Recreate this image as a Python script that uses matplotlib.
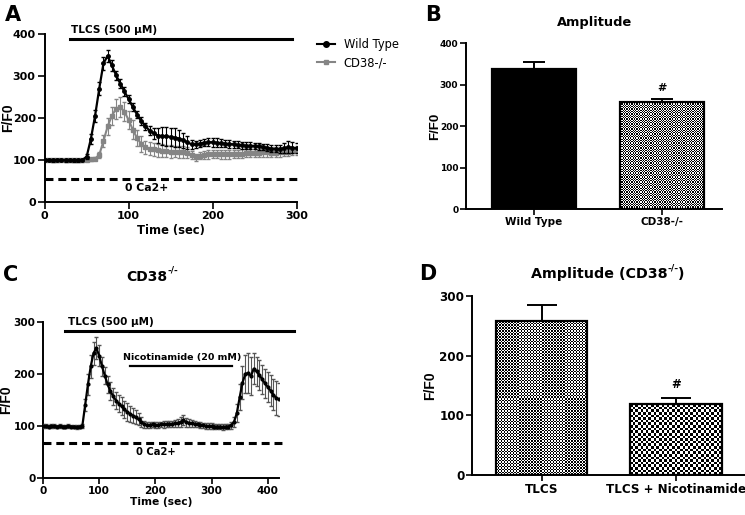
import matplotlib
matplotlib.use("Agg")
import matplotlib.pyplot as plt
from matplotlib.lines import Line2D
import numpy as np

plt.rcParams['font.family'] = ['DejaVu Sans']
plt.rcParams['font.weight'] = 'bold'
plt.rcParams['axes.labelweight'] = 'bold'
plt.rcParams['axes.linewidth'] = 1.4

# --- panel A: time course (WT vs CD38-/-) ---
time_a = [0, 5, 10, 15, 20, 25, 30, 35, 40, 45, 50, 55, 60, 65, 70, 75, 80, 85, 90, 95,
          100, 105, 110, 115, 120, 125, 130, 135, 140, 145, 150, 155, 160, 165, 170, 175,
          180, 185, 190, 195, 200, 205, 210, 215, 220, 225, 230, 235, 240, 245, 250, 255,
          260, 265, 270, 275, 280, 285, 290, 295, 300]
wt_mean = [100, 100, 99, 100, 100, 99, 100, 99, 99, 100, 108, 150, 205, 270, 330, 348, 325, 302, 282, 263,
           245, 226, 208, 193, 180, 170, 163, 158, 157, 156, 155, 153, 151, 147, 142, 137,
           137, 139, 141, 142, 142, 141, 140, 139, 138, 137, 136, 135, 134, 134, 133, 132,
           131, 129, 127, 127, 126, 128, 130, 129, 128]
wt_sem = [3, 3, 3, 3, 3, 3, 3, 3, 3, 3, 6, 12, 15, 15, 15, 14, 12, 11, 10, 10,
          10, 10, 9, 9, 9, 10, 12, 18, 22, 22, 22, 22, 20, 18, 15, 10,
          8, 8, 9, 10, 11, 11, 10, 9, 9, 8, 8, 8, 8, 8, 8, 8,
          8, 8, 8, 9, 10, 12, 14, 13, 12]
ko_mean = [100, 100, 100, 99, 100, 100, 99, 100, 100, 99, 100, 101, 103, 112, 145, 180, 205, 222, 226, 215,
           195, 172, 152, 138, 130, 127, 125, 123, 122, 121, 120, 120, 119, 118, 117, 112,
           106, 110, 112, 113, 114, 114, 113, 113, 113, 114, 114, 115, 116, 116, 116, 117,
           118, 118, 117, 117, 118, 119, 120, 121, 122]
ko_sem = [3, 3, 3, 3, 3, 3, 3, 3, 3, 3, 3, 3, 4, 8, 15, 20, 22, 24, 24, 22,
          22, 22, 20, 18, 16, 15, 15, 15, 15, 15, 15, 14, 14, 14, 13, 10,
          8, 9, 10, 10, 10, 10, 10, 10, 10, 10, 10, 10, 10, 10, 10, 10,
          10, 10, 10, 10, 10, 10, 10, 10, 10]

# --- panel B: amplitude ---
b_groups = ['Wild Type', 'CD38-/-']
b_amp = [338, 257]
b_err = [17, 9]

# --- panel C: CD38-/- time course with nicotinamide ---
time_c = [0, 5, 10, 15, 20, 25, 30, 35, 40, 45, 50, 55, 60, 65, 70, 75, 80, 85, 90, 95,
          100, 105, 110, 115, 120, 125, 130, 135, 140, 145, 150, 155, 160, 165, 170, 175,
          180, 185, 190, 195, 200, 205, 210, 215, 220, 225, 230, 235, 240, 245, 250, 255,
          260, 265, 270, 275, 280, 285, 290, 295, 300, 305, 310, 315, 320, 325, 330, 335,
          340, 345, 350, 355, 360, 365, 370, 375, 380, 385, 390, 395, 400, 405, 410, 415, 420]
c_mean = [100, 100, 99, 100, 100, 99, 100, 99, 99, 100, 99, 99, 98, 99, 100, 140, 180, 215, 240, 250,
          235, 215, 197, 180, 167, 157, 149, 143, 138, 132, 127, 123, 120, 117, 113, 108,
          103, 102, 102, 103, 102, 102, 103, 103, 104, 104, 104, 105, 106, 108, 111, 107,
          106, 105, 104, 103, 102, 101, 100, 100, 100, 99, 99, 99, 98, 99, 99, 101,
          108, 125, 155, 183, 200, 202, 196, 210, 205, 198, 190, 182, 175, 168, 160, 154, 151]
c_sem = [3, 3, 3, 3, 3, 3, 3, 3, 3, 3, 3, 3, 3, 3, 4, 12, 20, 22, 22, 22,
         20, 18, 17, 17, 17, 17, 17, 17, 17, 17, 17, 16, 15, 14, 12, 10,
         6, 5, 5, 5, 5, 5, 5, 6, 6, 6, 6, 7, 8, 9, 10, 8,
         7, 6, 6, 5, 5, 5, 5, 5, 5, 5, 5, 5, 5, 5, 5, 6,
         10, 18, 25, 32, 36, 38, 36, 30, 28, 28, 28, 28, 28, 30, 30, 32, 32]

# --- panel D: amplitude CD38-/- ---
d_groups = ['TLCS', 'TLCS + Nicotinamide']
d_amp = [257, 118]
d_err = [27, 11]

fig = plt.figure(figsize=(7.45, 5.15), dpi=100)
YLAB = dict(family='Liberation Sans', fontweight='bold')
DASH = (0, (2.6, 1.6))


def style_axes(ax, size, ticklen=4):
    ax.spines['top'].set_visible(False)
    ax.spines['right'].set_visible(False)
    ax.tick_params(direction='out', length=ticklen, width=1.2, labelsize=size, pad=1.5)
    for lab in ax.get_xticklabels() + ax.get_yticklabels():
        lab.set_fontweight('bold')


def checker_fill(ax, bar, cell_px):
    # checkerboard pattern inside a bar (GraphPad style)
    bb = bar.get_window_extent()
    nx = max(int(bb.width / cell_px), 2)
    ny = max(int(bb.height / cell_px), 2)
    board = np.add.outer(np.arange(ny), np.arange(nx)) % 2
    x0 = bar.get_x()
    im = ax.imshow(board, cmap='gray', extent=[x0, x0 + bar.get_width(), 0, bar.get_height()],
                   aspect='auto', interpolation='nearest', zorder=2.5)
    im.set_clip_path(bar)


def sup_title(ax, x, y, pre, post, size):
    # title with a "-/-" superscript drawn as real text
    t = ax.text(x, y, pre, transform=ax.transAxes, ha='center', va='baseline',
                fontsize=size, fontweight='bold')
    s = ax.annotate('-/-', xy=(1, 0.62), xycoords=t, ha='left', va='bottom',
                    fontsize=size * 0.65, fontweight='bold')
    if post:
        ax.annotate(post, xy=(1, 0), xycoords=(s, t), ha='left', va='bottom',
                    fontsize=size, fontweight='bold')


# ===== A =====
axA = fig.add_axes([0.060, 0.608, 0.338, 0.326])
axA.errorbar(time_a, wt_mean, yerr=wt_sem, color='black', marker='o', ms=2.5, lw=1.6,
             elinewidth=0.8, capsize=1.2, zorder=3)
axA.errorbar(time_a, ko_mean, yerr=ko_sem, color='#858585', marker='s', ms=2.2, lw=1.5,
             elinewidth=0.8, capsize=1.2, zorder=2)
axA.set_xlim(0, 300)
axA.set_ylim(0, 400)
axA.set_xticks([0, 100, 200, 300])
axA.set_yticks([0, 100, 200, 300, 400])
axA.set_xlabel('Time (sec)', fontsize=8.3, labelpad=2)
axA.set_ylabel('F/F0', fontsize=10, **YLAB)
axA.yaxis.set_label_coords(-0.119, 0.5)
axA.plot([30, 295], [389, 389], color='black', lw=2.2, clip_on=False)
axA.text(31, 397, 'TLCS (500 μM)', fontsize=7.6, fontweight='bold', va='bottom')
axA.plot([0, 300], [55, 55], color='black', lw=2.2, ls=DASH, clip_on=False)
axA.text(121, 33, '0 Ca2+', fontsize=7.8, fontweight='bold', ha='center', va='center')
style_axes(axA, 8, 5)

handles = [Line2D([], [], color='black', marker='o', ms=4, lw=1.5),
           Line2D([], [], color='#858585', marker='s', ms=3, lw=1.5)]
fig.legend(handles, ['Wild Type', 'CD38-/-'], loc='upper left',
           bbox_to_anchor=(0.412, 0.946), frameon=False,
           handlelength=1.5, labelspacing=0.45, prop={'weight': 'normal', 'size': 8.3})

# ===== B =====
axB = fig.add_axes([0.6255, 0.594, 0.344, 0.3225])
barsB = axB.bar([0, 1], b_amp, width=0.66, color=['black', 'none'], edgecolor='black',
                linewidth=1.6, zorder=3)
axB.errorbar([0, 1], b_amp, yerr=[[0, 0], b_err], fmt='none', ecolor='black',
             elinewidth=1.4, capsize=8, capthick=1.4, zorder=1)
axB.set_xlim(-0.53, 1.47)
axB.set_ylim(0, 400)
checker_fill(axB, barsB[1], 1.25)
axB.set_xlim(-0.53, 1.47)
axB.set_ylim(0, 400)
axB.set_xticks([0, 1])
axB.set_xticklabels(b_groups)
axB.set_yticks([0, 100, 200, 300, 400])
axB.set_ylabel('F/F0', fontsize=9.5, **YLAB)
axB.yaxis.set_label_coords(-0.098, 0.5)
axB.set_title('Amplitude', fontsize=9.4, fontweight='bold', pad=12)
axB.text(1, b_amp[1] + b_err[1] + 14, '#', ha='center', va='bottom', fontsize=8, fontweight='bold')
style_axes(axB, 6.5, 4)
for lab in axB.get_xticklabels():
    lab.set_fontsize(7.5)

# ===== C =====
axC = fig.add_axes([0.0577, 0.0718, 0.3168, 0.303])
axC.errorbar(time_c, c_mean, yerr=c_sem, color='black', marker='o', ms=2, lw=1.6,
             ecolor='#555555', elinewidth=0.8, capsize=1.2, zorder=3)
axC.set_xlim(0, 420)
axC.set_ylim(0, 300)
axC.set_xticks([0, 100, 200, 300, 400])
axC.set_yticks([0, 100, 200, 300])
axC.set_xlabel('Time (sec)', fontsize=7.7, labelpad=1)
axC.set_ylabel('F/F0', fontsize=10, **YLAB)
axC.yaxis.set_label_coords(-0.127, 0.5)
sup_title(axC, 0.44, 1.265, 'CD38', '', 10)
axC.plot([40, 446], [283, 283], color='black', lw=2.2, clip_on=False)
axC.text(45, 291, 'TLCS (500 μM)', fontsize=7.5, fontweight='bold', va='bottom')
axC.plot([155, 337], [216, 216], color='black', lw=1.6, clip_on=False)
axC.text(248, 224, 'Nicotinamide (20 mM)', fontsize=6.8, fontweight='bold', ha='center', va='bottom')
axC.plot([0, 432], [68, 68], color='black', lw=2.2, ls=DASH, clip_on=False)
axC.text(200, 50, '0 Ca2+', fontsize=7.2, fontweight='bold', ha='center', va='center')
style_axes(axC, 7.6, 4)

# ===== D =====
axD = fig.add_axes([0.6336, 0.0777, 0.3664, 0.348])
barsD = axD.bar([0, 1], d_amp, width=0.68, color='none', edgecolor='black',
                linewidth=1.6, zorder=3)
axD.errorbar([0, 1], d_amp, yerr=[[0, 0], d_err], fmt='none', ecolor='black',
             elinewidth=1.4, capsize=10.5, capthick=1.4, zorder=1)
axD.set_xlim(-0.517, 1.513)
axD.set_ylim(0, 300)
checker_fill(axD, barsD[0], 1.5)
checker_fill(axD, barsD[1], 2.6)
axD.set_xlim(-0.517, 1.513)
axD.set_ylim(0, 300)
axD.set_xticks([0, 1])
axD.set_xticklabels(d_groups)
axD.set_yticks([0, 100, 200, 300])
axD.set_ylabel('F/F0', fontsize=10, **YLAB)
axD.yaxis.set_label_coords(-0.128, 0.5)
sup_title(axD, 0.465, 1.1, 'Amplitude (CD38', ')', 10.3)
axD.text(1, d_amp[1] + d_err[1] + 12, '#', ha='center', va='bottom', fontsize=8.5, fontweight='bold')
style_axes(axD, 8.6, 4)

# panel letters
for lbl, x, y in [('A', 0.006, 0.971), ('B', 0.570, 0.971), ('C', 0.004, 0.466), ('D', 0.562, 0.468)]:
    fig.text(x, y, lbl, fontsize=15, fontweight='bold', va='center')

fig.savefig('out.png', dpi=100)
